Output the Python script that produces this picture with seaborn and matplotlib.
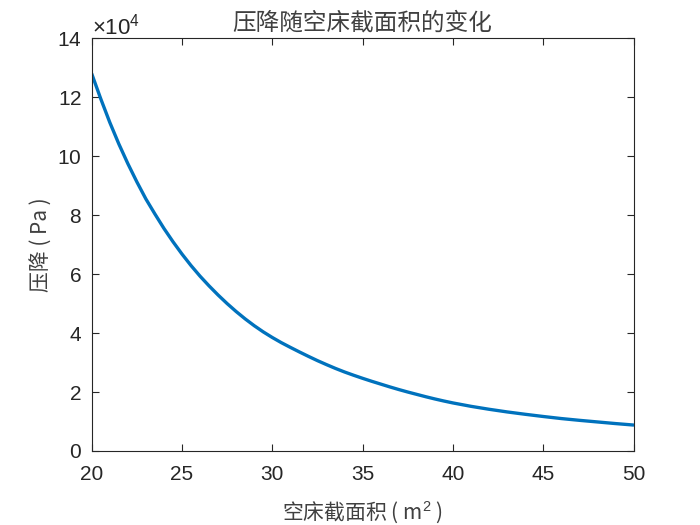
import numpy as np
import seaborn as sns
import matplotlib.pyplot as plt
import pandas as pd

# values (x in m^2, y in Pa / 1e4)
area = [20, 20.5, 21, 21.5, 22, 22.5, 23, 23.5, 24, 24.5, 25, 25.5, 26, 26.5,
        27, 27.5, 28, 28.5, 29, 29.5, 30, 30.5, 31, 31.5, 32, 32.5, 33, 33.5,
        34, 34.5, 35, 35.5, 36, 36.5, 37, 37.5, 38, 38.5, 39, 39.5,
        40, 41, 42, 43, 44, 45, 46, 47, 48, 49, 50]
dp_1e4 = [12.80, 11.95, 11.15, 10.42, 9.75, 9.13, 8.55, 8.04, 7.55, 7.10,
          6.68, 6.29, 5.93, 5.60, 5.29, 5.00, 4.73, 4.48, 4.25, 4.04, 3.85,
          3.675, 3.515, 3.36, 3.21, 3.065, 2.93, 2.80, 2.68, 2.57, 2.465,
          2.365, 2.27, 2.175, 2.085, 2.00, 1.92, 1.84, 1.765, 1.695,
          1.63, 1.515, 1.415, 1.325, 1.245, 1.17, 1.10, 1.04, 0.985, 0.93, 0.88]
x_ticks = [20, 25, 30, 35, 40, 45, 50]
y_ticks = [0, 2, 4, 6, 8, 10, 12, 14]

df = pd.DataFrame({'area': area, 'dp': np.array(dp_1e4) * 1e4})

sns.set_style('ticks')
plt.rcParams['font.family'] = ['Liberation Sans', 'Noto Sans CJK SC', 'DejaVu Sans']
plt.rcParams['mathtext.fontset'] = 'custom'
plt.rcParams['mathtext.rm'] = 'Liberation Sans'
plt.rcParams['mathtext.it'] = 'Liberation Sans'

dark = '#262626'
cjk = ['Noto Sans CJK SC', 'Liberation Sans']

fig = plt.figure(figsize=(7, 5.25), dpi=100)
ax = fig.add_axes([0.131, 0.141, 0.774, 0.786])
sns.lineplot(data=df, x='area', y='dp', color='#0072BD', linewidth=2.4, ax=ax)

ax.set_xlim(20, 50)
ax.set_ylim(0, 14e4)
ax.set_xticks(x_ticks)
ax.set_yticks([v * 1e4 for v in y_ticks])
ax.ticklabel_format(axis='y', style='sci', scilimits=(4, 4), useMathText=True)
ax.yaxis.get_offset_text().set_fontsize(16)
ax.yaxis.get_offset_text().set_color(dark)

ax.tick_params(direction='in', top=True, right=True, length=5, width=0.8,
               labelsize=15, colors=dark)
ax.tick_params(axis='x', pad=10)
ax.tick_params(axis='y', pad=7)
for s in ax.spines.values():
    s.set_linewidth(0.8)
    s.set_color(dark)
    s.set_visible(True)

ax.set_title('压降随空床截面积的变化', family=cjk, fontsize=17, color='#404040',
             fontweight='light', pad=6)
ax.set_xlabel('空床截面积 ( m$^2$ )', family=cjk, fontsize=15, color='#404040',
              fontweight='light', labelpad=11)
ax.set_ylabel('压降 ( Pa )', family=cjk, fontsize=15, color='#404040',
              fontweight='light', labelpad=3)

fig.savefig('out.png', dpi=100)
